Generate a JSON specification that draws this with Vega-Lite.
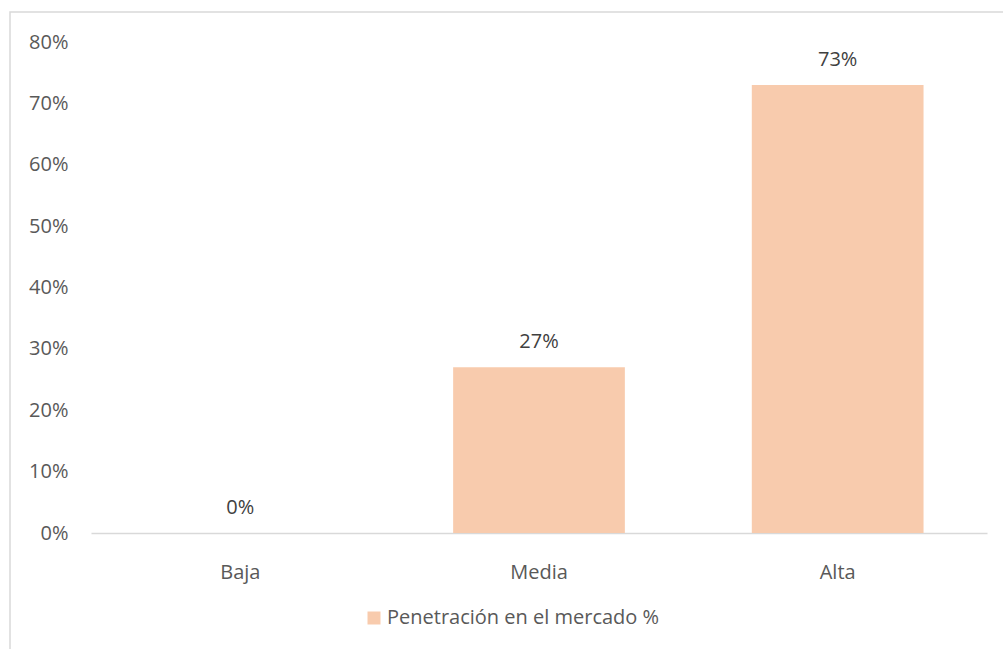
{
  "$schema": "https://vega.github.io/schema/vega-lite/v6.json",
  "width": 1000,
  "height": 640,
  "autosize": {"type": "none"},
  "padding": {"left": 10, "top": 12, "right": 0, "bottom": 0},
  "background": "white",
  "config": {
    "view": {"stroke": "#d9d9d9", "strokeWidth": 1.5},
    "font": "Open Sans"
  },
  "data": {
    "values": [
      {"nivel": "Baja", "valor": 0.0, "serie": "Penetración en el mercado %"},
      {"nivel": "Media", "valor": 0.27, "serie": "Penetración en el mercado %"},
      {"nivel": "Alta", "valor": 0.73, "serie": "Penetración en el mercado %"}
    ]
  },
  "encoding": {
    "x": {
      "field": "nivel",
      "type": "nominal",
      "sort": ["Baja", "Media", "Alta"],
      "scale": {"range": [81, 977], "paddingInner": 0.425, "paddingOuter": 0.2125},
      "axis": {
        "orient": "bottom",
        "offset": -119,
        "title": null,
        "labelAngle": 0,
        "ticks": false,
        "domainColor": "#d9d9d9",
        "domainWidth": 1.5,
        "labelColor": "#595959",
        "labelFontSize": 20,
        "labelPadding": 39,
        "labelFont": "Open Sans",
        "labelBaseline": "middle"
      }
    },
    "y": {
      "field": "valor",
      "type": "quantitative",
      "scale": {"domain": [0, 0.8], "range": [521, 30], "nice": false, "zero": true},
      "axis": {
        "title": null,
        "values": [0, 0.1, 0.2, 0.3, 0.4, 0.5, 0.6, 0.7, 0.8],
        "format": ".0%",
        "domain": false,
        "ticks": false,
        "grid": false,
        "offset": -58,
        "labelPadding": 0,
        "labelColor": "#595959",
        "labelFontSize": 20,
        "labelFont": "Open Sans"
      }
    }
  },
  "layer": [
    {
      "mark": {"type": "bar", "color": "#F8CBAD"},
      "encoding": {
        "color": {
          "field": "serie",
          "type": "nominal",
          "scale": {"range": ["#F8CBAD"]},
          "legend": {
            "orient": "none",
            "legendX": 354,
            "legendY": 596,
            "title": null,
            "symbolType": "square",
            "symbolSize": 169,
            "symbolStrokeWidth": 0,
            "labelFontSize": 20,
            "labelColor": "#595959",
            "labelFont": "Open Sans",
            "labelOffset": 3,
            "labelLimit": 500,
            "padding": 0
          }
        }
      }
    },
    {
      "mark": {"type": "text", "baseline": "middle", "dy": -25, "fontSize": 20, "color": "#404040", "font": "Open Sans"},
      "encoding": {
        "text": {"field": "valor", "type": "quantitative", "format": ".0%"}
      }
    }
  ]
}
